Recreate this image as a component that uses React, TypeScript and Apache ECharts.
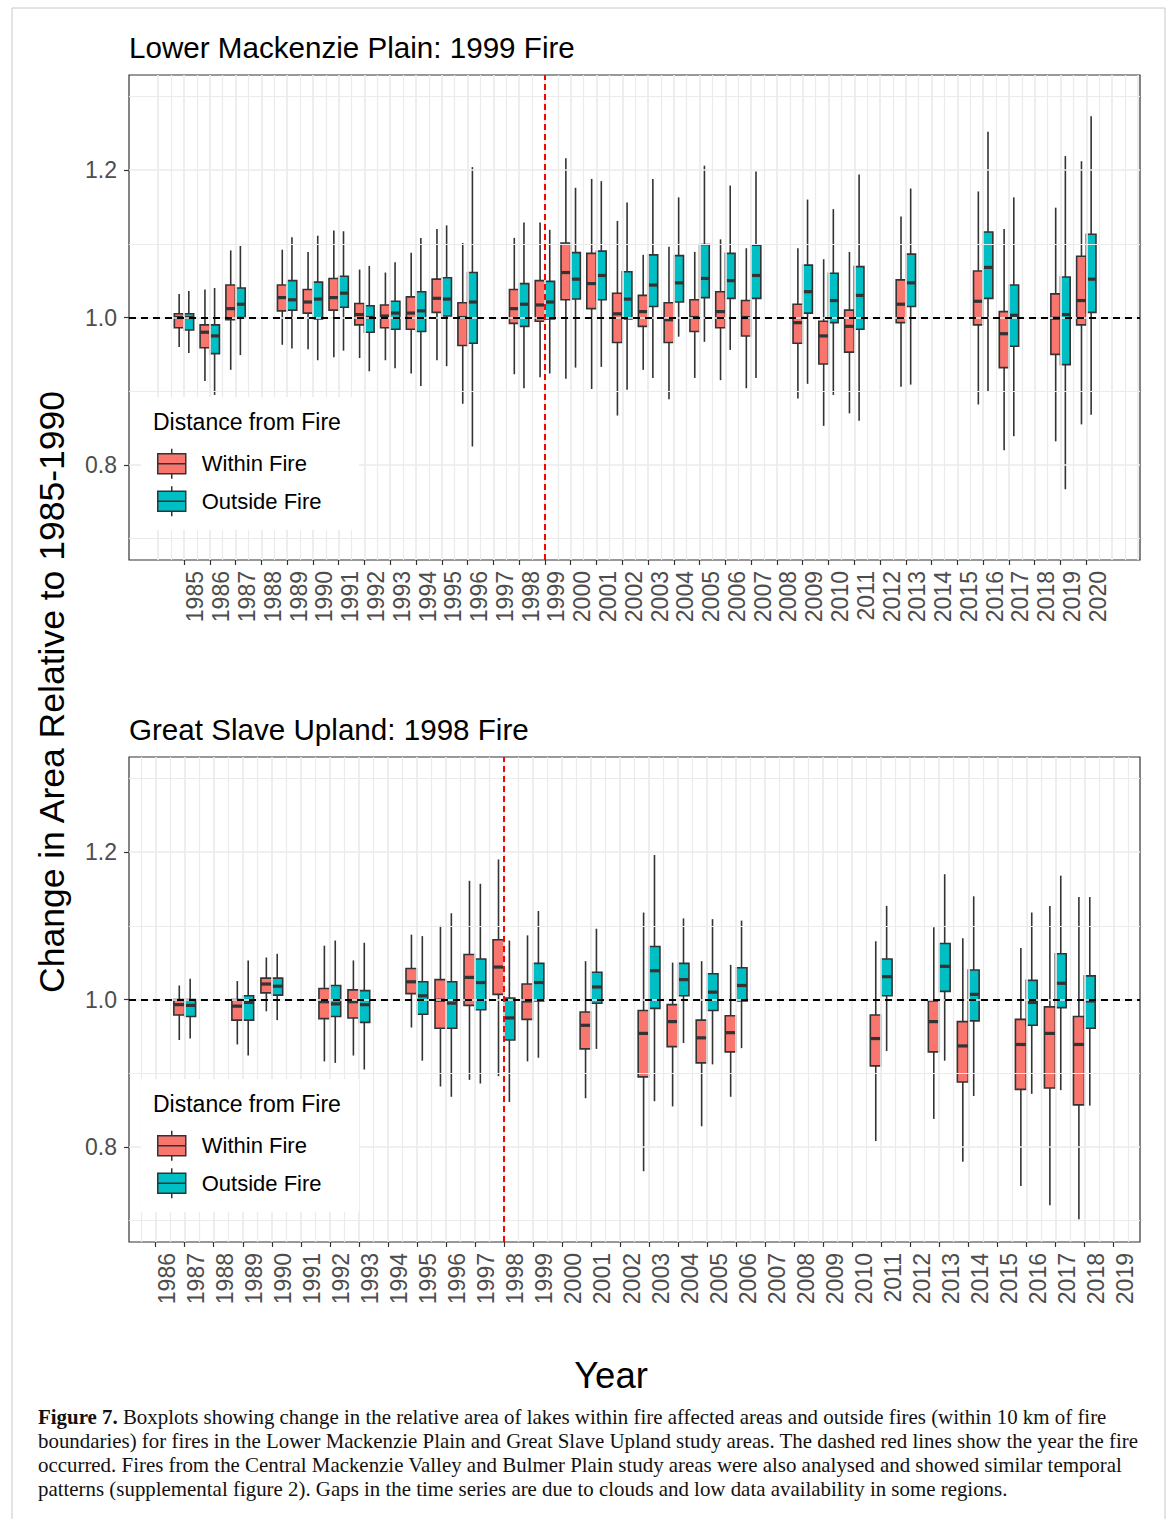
import React, { useEffect, useRef } from 'react';
import * as echarts from 'echarts';

const FONT = '"Liberation Sans", Arial, Helvetica, sans-serif';
const SERIF = '"Liberation Serif", "Times New Roman", serif';
const RED = '#F8766D';
const TEAL = '#00BFC4';
const INK = '#333333';
const GRIDC = '#EBEBEB';

// ---------- Lower Mackenzie Plain (1999 fire) ----------
const topYears = [1985, 1986, 1987, 1989, 1990, 1991, 1992, 1993, 1994, 1995, 1996, 1998, 1999, 2000, 2001, 2002, 2003, 2004, 2005, 2006, 2007, 2009, 2010, 2011, 2013, 2016, 2017, 2019, 2020];
// [min, q1, median, q3, max]
const topWithin = [
  [0.960, 0.986, 1.000, 1.005, 1.032],
  [0.914, 0.959, 0.980, 0.990, 1.038],
  [0.929, 0.997, 1.012, 1.044, 1.091],
  [0.963, 1.009, 1.027, 1.044, 1.092],
  [0.957, 1.006, 1.021, 1.038, 1.089],
  [0.946, 1.010, 1.027, 1.053, 1.118],
  [0.945, 0.990, 1.004, 1.019, 1.065],
  [0.942, 0.986, 1.002, 1.017, 1.061],
  [0.924, 0.984, 1.006, 1.028, 1.088],
  [0.942, 1.007, 1.026, 1.052, 1.120],
  [0.883, 0.962, 1.000, 1.020, 1.101],
  [0.923, 0.992, 1.012, 1.038, 1.108],
  [0.919, 0.995, 1.017, 1.050, 1.129],
  [0.917, 1.024, 1.061, 1.101, 1.216],
  [0.903, 1.012, 1.046, 1.087, 1.188],
  [0.867, 0.966, 1.005, 1.033, 1.131],
  [0.929, 0.988, 1.008, 1.030, 1.085],
  [0.889, 0.966, 0.997, 1.020, 1.096],
  [0.918, 0.981, 1.000, 1.024, 1.089],
  [0.915, 0.986, 1.008, 1.035, 1.106],
  [0.904, 0.975, 1.000, 1.023, 1.094],
  [0.890, 0.965, 0.993, 1.018, 1.094],
  [0.853, 0.937, 0.975, 0.995, 1.079],
  [0.870, 0.953, 0.988, 1.010, 1.089],
  [0.906, 0.993, 1.018, 1.051, 1.137],
  [0.882, 0.990, 1.022, 1.063, 1.171],
  [0.820, 0.932, 0.978, 1.008, 1.120],
  [0.832, 0.950, 0.999, 1.032, 1.149],
  [0.855, 0.990, 1.023, 1.083, 1.212],
];
const topOutside = [
  [0.952, 0.983, 1.000, 1.005, 1.036],
  [0.895, 0.951, 0.975, 0.990, 1.040],
  [0.949, 1.000, 1.018, 1.040, 1.097],
  [0.958, 1.010, 1.024, 1.050, 1.109],
  [0.942, 0.998, 1.025, 1.048, 1.111],
  [0.955, 1.014, 1.033, 1.056, 1.117],
  [0.927, 0.980, 1.000, 1.016, 1.070],
  [0.931, 0.984, 1.006, 1.022, 1.075],
  [0.907, 0.981, 1.009, 1.035, 1.108],
  [0.934, 1.002, 1.025, 1.054, 1.125],
  [0.825, 0.965, 1.021, 1.061, 1.204],
  [0.904, 0.988, 1.018, 1.046, 1.129],
  [0.924, 0.998, 1.021, 1.049, 1.119],
  [0.932, 1.025, 1.052, 1.088, 1.176],
  [0.933, 1.024, 1.057, 1.090, 1.185],
  [0.902, 0.998, 1.025, 1.062, 1.156],
  [0.918, 1.015, 1.044, 1.085, 1.188],
  [0.974, 1.021, 1.047, 1.084, 1.163],
  [0.967, 1.027, 1.053, 1.099, 1.206],
  [0.956, 1.026, 1.050, 1.087, 1.179],
  [0.918, 1.026, 1.057, 1.098, 1.198],
  [0.910, 1.006, 1.035, 1.071, 1.160],
  [0.895, 0.993, 1.023, 1.060, 1.147],
  [0.860, 0.984, 1.030, 1.069, 1.194],
  [0.909, 1.015, 1.047, 1.086, 1.175],
  [0.900, 1.026, 1.068, 1.116, 1.252],
  [0.839, 0.961, 1.003, 1.044, 1.163],
  [0.767, 0.936, 1.004, 1.055, 1.219],
  [0.868, 1.007, 1.052, 1.113, 1.273],
];

// ---------- Great Slave Upland (1998 fire) ----------
const bottomYears = [1987, 1989, 1990, 1992, 1993, 1995, 1996, 1997, 1998, 1999, 2001, 2003, 2004, 2005, 2006, 2011, 2013, 2014, 2016, 2017, 2018];
const bottomWithin = [
  [0.945, 0.979, 0.993, 1.000, 1.019],
  [0.939, 0.972, 0.991, 1.000, 1.025],
  [0.984, 1.009, 1.021, 1.029, 1.057],
  [0.916, 0.974, 0.997, 1.015, 1.073],
  [0.924, 0.975, 0.997, 1.013, 1.053],
  [0.962, 1.008, 1.024, 1.042, 1.088],
  [0.882, 0.961, 0.999, 1.027, 1.100],
  [0.891, 0.992, 1.030, 1.061, 1.161],
  [0.896, 1.007, 1.044, 1.081, 1.190],
  [0.916, 0.973, 0.998, 1.021, 1.087],
  [0.866, 0.933, 0.965, 0.983, 1.052],
  [0.767, 0.895, 0.954, 0.985, 1.118],
  [0.855, 0.936, 0.970, 0.993, 1.050],
  [0.828, 0.914, 0.948, 0.972, 1.052],
  [0.868, 0.929, 0.955, 0.978, 1.047],
  [0.808, 0.910, 0.947, 0.979, 1.079],
  [0.838, 0.929, 0.970, 0.998, 1.098],
  [0.780, 0.888, 0.937, 0.970, 1.083],
  [0.747, 0.878, 0.939, 0.973, 1.070],
  [0.721, 0.880, 0.954, 0.990, 1.127],
  [0.702, 0.857, 0.939, 0.977, 1.139],
];
const bottomOutside = [
  [0.947, 0.977, 0.992, 1.000, 1.028],
  [0.924, 0.972, 0.996, 1.005, 1.053],
  [0.972, 1.006, 1.018, 1.029, 1.062],
  [0.914, 0.977, 0.994, 1.019, 1.080],
  [0.905, 0.969, 0.993, 1.012, 1.077],
  [0.917, 0.980, 1.005, 1.024, 1.086],
  [0.868, 0.961, 0.995, 1.024, 1.117],
  [0.886, 0.986, 1.023, 1.055, 1.157],
  [0.861, 0.945, 0.975, 1.002, 1.080],
  [0.921, 0.998, 1.023, 1.049, 1.120],
  [0.933, 0.995, 1.017, 1.037, 1.096],
  [0.862, 0.988, 1.039, 1.072, 1.196],
  [0.941, 1.005, 1.027, 1.049, 1.110],
  [0.912, 0.985, 1.010, 1.035, 1.109],
  [0.934, 0.998, 1.019, 1.043, 1.107],
  [0.930, 1.005, 1.031, 1.055, 1.127],
  [0.917, 1.011, 1.045, 1.076, 1.170],
  [0.869, 0.971, 1.007, 1.040, 1.140],
  [0.872, 0.965, 0.996, 1.026, 1.118],
  [0.877, 0.989, 1.022, 1.062, 1.168],
  [0.856, 0.961, 0.998, 1.032, 1.139],
];

// ---------- axis ticks ----------
function range(a: number, b: number, step = 1): number[] {
  const out: number[] = [];
  for (let v = a; v <= b + 1e-9; v += step) out.push(Math.round(v * 10) / 10);
  return out;
}
const topTickYears = range(1985, 2020);
const bottomTickYears = range(1986, 2019);
const yTickValues = [0.8, 1.0, 1.2];
const yGridValues = [0.7, 0.8, 0.9, 1.0, 1.1, 1.2, 1.3];
const Y_MIN = 0.671;
const Y_MAX = 1.329;

const captionLines = [
  '{b|Figure 7.} Boxplots showing change in the relative area of lakes within fire affected areas and outside fires (within 10 km of fire',
  'boundaries) for fires in the Lower Mackenzie Plain and Great Slave Upland study areas. The dashed red lines show the year the fire',
  'occurred. Fires from the Central Mackenzie Valley and Bulmer Plain study areas were also analysed and showed similar temporal',
  'patterns (supplemental figure 2). Gaps in the time series are due to clouds and low data availability in some regions.',
];

const DODGE = 0.1875; // in years
const BOX_W = 0.375; // in years

const ICON = 'path://M14,0L14,5M0,5L28,5L28,25L0,25ZM0,15L28,15M14,25L14,30';

function makeRenderItem(side: number, color: string) {
  return (params: any, api: any) => {
    const x = api.value(0);
    const vmin = api.value(1);
    const q1 = api.value(2);
    const med = api.value(3);
    const q3 = api.value(4);
    const vmax = api.value(5);
    const off = api.size([DODGE * 2, 0], [x, 1])[0] / 2 * side;
    const w = api.size([BOX_W, 0], [x, 1])[0];
    const pMax = api.coord([x, vmax]);
    const pQ3 = api.coord([x, q3]);
    const pMed = api.coord([x, med]);
    const pQ1 = api.coord([x, q1]);
    const pMin = api.coord([x, vmin]);
    const cx = pMed[0] + off;
    const lw = 1.6;
    return {
      type: 'group',
      children: [
        { type: 'line', shape: { x1: cx, y1: pMax[1], x2: cx, y2: pQ3[1] }, style: { stroke: INK, lineWidth: lw } },
        { type: 'line', shape: { x1: cx, y1: pQ1[1], x2: cx, y2: pMin[1] }, style: { stroke: INK, lineWidth: lw } },
        { type: 'rect', shape: { x: cx - w / 2, y: pQ3[1], width: w, height: pQ1[1] - pQ3[1] }, style: { fill: color, stroke: INK, lineWidth: lw } },
        { type: 'line', shape: { x1: cx - w / 2, y1: pMed[1], x2: cx + w / 2, y2: pMed[1] }, style: { stroke: INK, lineWidth: 3.2 } },
      ],
    };
  };
}

interface Panel {
  years: number[];
  within: number[][];
  outside: number[][];
  ticks: number[];
  vGrid: number[];
  fire: number;
  xMin: number;
  xMax: number;
  top: number;
  title: string;
}

const panels: Panel[] = [
  { years: topYears, within: topWithin, outside: topOutside, ticks: topTickYears, vGrid: range(1984, 2022, 0.5), fire: 1999, xMin: 1982.867, xMax: 2022.083, top: 75, title: 'Lower Mackenzie Plain: 1999 Fire' },
  { years: bottomYears, within: bottomWithin, outside: bottomOutside, ticks: bottomTickYears, vGrid: range(1985.5, 2019.5, 0.5), fire: 1998, xMin: 1985.08, xMax: 2019.918, top: 757, title: 'Great Slave Upland: 1998 Fire' },
];

function txt(text: string, x: number, y: number, size: number, extra: any = {}) {
  const align = extra.align || 'left';
  const valign = extra.valign || 'middle';
  return {
    type: 'text',
    x,
    y,
    rotation: extra.rotation || 0,
    z: extra.z ?? 10,
    style: {
      text,
      fontSize: size,
      fontFamily: extra.family || FONT,
      fontWeight: extra.weight || 'normal',
      fill: extra.color || '#000',
      align,
      textAlign: align,
      verticalAlign: valign,
      textVerticalAlign: valign,
      rich: extra.rich,
    },
  };
}

function buildOption() {
  const grid: any[] = [];
  const xAxis: any[] = [];
  const yAxis: any[] = [];
  const series: any[] = [];
  const legend: any[] = [];
  const graphic: any[] = [];

  graphic.push({ type: 'rect', z: 0, shape: { x: 12, y: 8, width: 1153, height: 1540 }, style: { fill: 'none', stroke: '#C8C8C8', lineWidth: 1 } });

  panels.forEach((p, i) => {
    grid.push({ left: 129, top: p.top, width: 1011, height: 485, show: true, borderColor: INK, borderWidth: 1.2, backgroundColor: 'transparent', containLabel: false, outerBoundsMode: 'none' });
    xAxis.push({
      gridIndex: i, type: 'value', min: p.xMin, max: p.xMax,
      axisLine: { show: false }, splitLine: { show: false },
      axisTick: { show: true, customValues: p.ticks, length: 5, lineStyle: { color: INK, width: 1.2 } },
      axisLabel: { show: true, customValues: p.ticks, rotate: 90, verticalAlign: 'top', margin: 11, fontSize: 23, color: '#4D4D4D', fontFamily: FONT, formatter: (v: number) => String(Math.round(v)) },
    });
    yAxis.push({
      gridIndex: i, type: 'value', min: Y_MIN, max: Y_MAX,
      axisLine: { show: false }, splitLine: { show: false },
      axisTick: { show: true, customValues: yTickValues, length: 5, lineStyle: { color: INK, width: 1.2 } },
      axisLabel: { show: true, customValues: yTickValues, margin: 12, fontSize: 23, color: '#4D4D4D', fontFamily: FONT, formatter: (v: number) => v.toFixed(1) },
    });

    // background grid lines
    series.push({
      type: 'line', xAxisIndex: i, yAxisIndex: i, data: [], z: 1, silent: true,
      markLine: {
        silent: true, symbol: ['none', 'none'], animation: false, label: { show: false },
        data: [
          ...p.vGrid.map((v) => ({ xAxis: v, lineStyle: { color: GRIDC, width: Number.isInteger(v) ? 1.7 : 1.2, type: 'solid' } })),
          ...yGridValues.map((v) => ({ yAxis: v, lineStyle: { color: GRIDC, width: Math.abs(v * 5 - Math.round(v * 5)) < 1e-6 ? 1.7 : 1.2, type: 'solid' } })),
        ],
      },
    });

    series.push({
      type: 'custom', name: 'Within Fire', xAxisIndex: i, yAxisIndex: i, z: 2, silent: true,
      itemStyle: { color: RED },
      encode: { x: 0, y: [1, 2, 3, 4, 5] },
      data: p.years.map((y, k) => [y, ...p.within[k]]),
      renderItem: makeRenderItem(-1, RED),
    });
    series.push({
      type: 'custom', name: 'Outside Fire', xAxisIndex: i, yAxisIndex: i, z: 2, silent: true,
      itemStyle: { color: TEAL },
      encode: { x: 0, y: [1, 2, 3, 4, 5] },
      data: p.years.map((y, k) => [y, ...p.outside[k]]),
      renderItem: makeRenderItem(1, TEAL),
    });

    // reference lines
    series.push({
      type: 'line', xAxisIndex: i, yAxisIndex: i, data: [], z: 3, silent: true,
      markLine: {
        silent: true, symbol: ['none', 'none'], animation: false, label: { show: false },
        data: [
          { yAxis: 1.0, lineStyle: { color: '#000', width: 2, type: [7, 5] } },
          { xAxis: p.fire, lineStyle: { color: '#FF0000', width: 2, type: [6, 4] } },
        ],
      },
    });

    const dy = p.top - 75;
    legend.push({
      data: ['Within Fire', 'Outside Fire'], orient: 'vertical', left: 157, top: 448 + dy,
      itemWidth: 50, itemHeight: 30, itemGap: 6, icon: ICON, padding: 0, z: 8, selectedMode: false,
      textStyle: { fontSize: 22, color: '#000', fontFamily: FONT },
      itemStyle: { borderColor: INK, borderWidth: 1.5 },
    });
    graphic.push({ type: 'rect', z: 7, shape: { x: 141, y: 397 + dy, width: 218, height: 133 }, style: { fill: '#fff', stroke: 'none' } });
    graphic.push(txt('Distance from Fire', 153, 422 + dy, 23, { z: 9 }));
    graphic.push(txt(p.title, 129, 47 + dy, 29.6, { z: 9 }));
  });

  graphic.push(txt('Change in Area Relative to 1985-1990', 52, 692, 35.5, { rotation: Math.PI / 2, align: 'center', z: 9 }));
  graphic.push(txt('Year', 611, 1375, 36.5, { align: 'center', z: 9 }));
  captionLines.forEach((line, k) => {
    graphic.push(txt(line, 38, 1417 + k * 24, 20.9, { family: SERIF, color: '#111', z: 9, rich: { b: { fontWeight: 'bold', fontSize: 20.9, fontFamily: SERIF, fill: '#111', color: '#111' } } }));
  });

  return { animation: false, backgroundColor: '#fff', grid, xAxis, yAxis, series, legend, graphic };
}

export default function App() {
  const ref = useRef<HTMLDivElement>(null);
  useEffect(() => {
    if (!ref.current) return;
    const chart = echarts.init(ref.current, null, { renderer: 'svg' });
    chart.setOption(buildOption() as any);
    return () => chart.dispose();
  }, []);
  return (
    <div
      ref={ref}
      style={{ position: 'absolute', left: 0, top: 0, width: 1173, height: 1519, background: '#fff' }}
    />
  );
}
